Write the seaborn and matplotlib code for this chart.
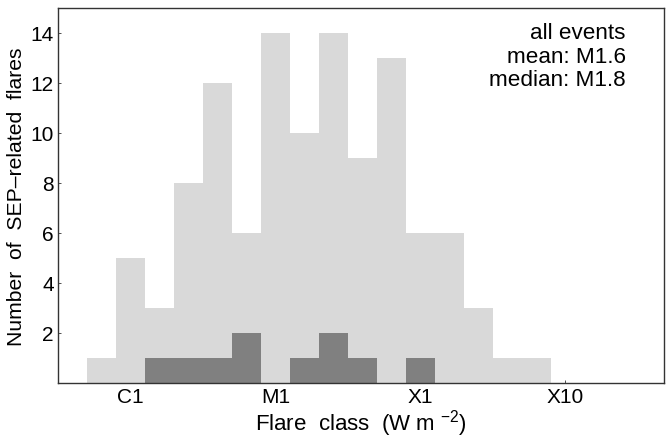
import numpy as np
import seaborn as sns
import matplotlib.pyplot as plt

# log10 of flare peak flux (bin centres) and counts per bin
bin_centres = [-6.2, -6.0, -5.8, -5.6, -5.4, -5.2, -5.0, -4.8,
               -4.6, -4.4, -4.2, -4.0, -3.8, -3.6, -3.4, -3.2]
all_counts = [1, 5, 3, 8, 12, 6, 14, 10, 14, 9, 13, 6, 6, 3, 1, 1]
subset_counts = [0, 0, 1, 1, 1, 2, 0, 1, 2, 1, 0, 1, 0, 0, 0, 0]

tick_pos = [-6, -5, -4, -3]
tick_labels = ['C1', 'M1', 'X1', 'X10']
y_ticks = [2, 4, 6, 8, 10, 12, 14]

sns.set_theme(style="ticks")
plt.rcParams['font.family'] = ['Liberation Sans', 'DejaVu Sans']
plt.rcParams['mathtext.fontset'] = 'custom'
plt.rcParams['mathtext.rm'] = 'Liberation Sans'
plt.rcParams['mathtext.it'] = 'Liberation Sans:italic'
plt.rcParams['text.color'] = 'black'
plt.rcParams['axes.labelcolor'] = 'black'
plt.rcParams['xtick.labelcolor'] = 'black'
plt.rcParams['ytick.labelcolor'] = 'black'

fig = plt.figure(figsize=(6.72, 4.39), dpi=100)
ax = fig.add_axes([0.0863, 0.1253, 0.9017, 0.8542])

sns.histplot(x=bin_centres, weights=all_counts, binwidth=0.2,
             binrange=(-6.3, -3.1), color='#d9d9d9', alpha=1,
             linewidth=0, ax=ax)
sns.histplot(x=bin_centres, weights=subset_counts, binwidth=0.2,
             binrange=(-6.3, -3.1), color='#808080', alpha=1,
             linewidth=0, ax=ax)

ax.set_xlim(-6.5, -2.32)
ax.set_ylim(0, 15)
ax.set_xticks(tick_pos)
ax.set_xticklabels(tick_labels)
ax.set_yticks(y_ticks)
ax.tick_params(direction='in', length=2, width=0.6, labelsize=15,
               color='#333333', labelcolor='black', pad=3)
for s in ax.spines.values():
    s.set_color('#333333')
    s.set_linewidth(1.0)

ax.set_xlabel('Flare  class  (W m $^{-2}$)', fontsize=16, labelpad=1)
ax.set_ylabel('Number  of  SEP\u2013related  flares', fontsize=15.2, labelpad=3)

ax.text(0.937, 0.962, 'all events\nmean: M1.6\nmedian: M1.8', transform=ax.transAxes,
        ha='right', va='top', fontsize=16.2, linespacing=1.15)

plt.savefig('out.png', dpi=100)
